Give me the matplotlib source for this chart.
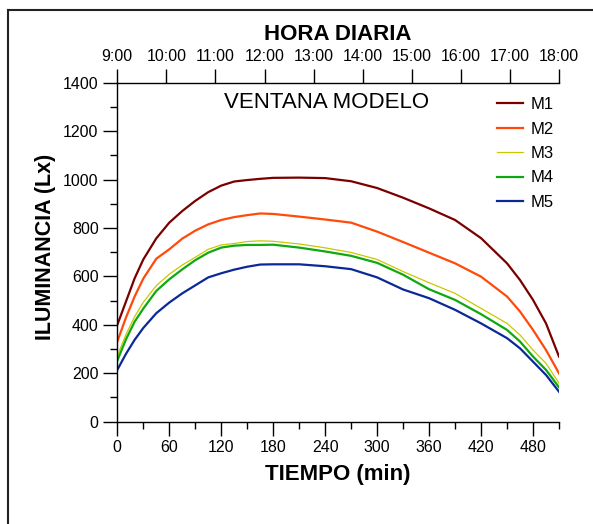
import matplotlib
matplotlib.use("Agg")
import matplotlib.pyplot as plt
from matplotlib.lines import Line2D
from matplotlib.ticker import MultipleLocator

plt.rcParams['font.family'] = ['Liberation Sans', 'DejaVu Sans']

# tiempo en minutos desde las 9:00
minutos = [0, 10, 20, 30, 45, 60, 75, 90, 105, 120, 135, 150, 165, 180,
           210, 240, 270, 300, 330, 360, 390, 420, 450, 465, 480, 495, 510]

m1 = [400, 496, 592, 670, 757, 822, 870, 912, 948, 975, 992, 998, 1003, 1007,
      1008, 1006, 993, 965, 925, 881, 833, 758, 654, 585, 503, 406, 269]
m2 = [331, 430, 517, 591, 673, 712, 756, 789, 815, 833, 845, 853, 860, 858,
      847, 835, 822, 785, 742, 698, 654, 599, 517, 455, 379, 296, 200]
m3 = [272, 360, 434, 493, 562, 609, 647, 679, 712, 730, 736, 744, 747, 745,
      734, 718, 699, 670, 620, 574, 530, 468, 406, 358, 296, 241, 159]
m4 = [252, 340, 413, 467, 540, 588, 629, 667, 698, 719, 727, 730, 730, 731,
      719, 703, 685, 656, 607, 547, 503, 444, 379, 331, 269, 214, 142]
m5 = [214, 280, 338, 387, 448, 492, 530, 563, 596, 613, 628, 640, 649, 650,
      650, 642, 630, 596, 546, 510, 462, 406, 345, 303, 248, 193, 124]

horas = [9, 10, 11, 12, 13, 14, 15, 16, 17, 18]
etiquetas_horas = ['%d:00' % h for h in horas]

series = [m1, m2, m3, m4, m5]
nombres = ['M1', 'M2', 'M3', 'M4', 'M5']
colores = ['#7a0000', '#ff4a0a', '#c8c800', '#10a810', '#0a2896']
anchos = [1.6, 1.6, 0.9, 1.6, 1.6]

fig = plt.figure(figsize=(5.93, 5.24), dpi=100)
ax = fig.add_axes([117.3 / 593, 1 - 421.7 / 524, 441.7 / 593, 339.0 / 524])

for s, n, c, w in zip(series, nombres, colores, anchos):
    ax.plot(minutos, s, color=c, lw=w, label=n)

ax.set_xlim(0, 510)
ax.set_ylim(0, 1400)
ax.xaxis.set_major_locator(MultipleLocator(60))
ax.xaxis.set_minor_locator(MultipleLocator(30))
ax.yaxis.set_major_locator(MultipleLocator(200))
ax.yaxis.set_minor_locator(MultipleLocator(100))
ax.tick_params(which='major', direction='out', length=10, width=1, labelsize=11.5, pad=3.5)
ax.tick_params(which='minor', direction='out', length=5, width=1)
ax.spines['right'].set_visible(False)
ax.spines['top'].set_visible(False)
for sp in ['left', 'bottom']:
    ax.spines[sp].set_linewidth(1)

ax.set_xlabel('TIEMPO (min)', fontsize=16, fontweight='bold', va='baseline')
ax.xaxis.set_label_coords(0.5, -0.172)
ax.set_ylabel('ILUMINANCIA (Lx)', fontsize=15.5, fontweight='bold', va='baseline')
ax.yaxis.set_label_coords(-0.15, 0.515)

ax.text(242, 1318, 'VENTANA MODELO', fontsize=16, ha='center', va='center')

leg = ax.legend(loc='upper left', bbox_to_anchor=(497 / 593, 1 - 97 / 524),
                bbox_transform=fig.transFigure, frameon=False, fontsize=12,
                handlelength=1.56, handletextpad=0.48, labelspacing=0.57,
                borderpad=0, borderaxespad=0)

# eje superior con la hora del dia
ax2 = ax.twiny()
ax2.set_xlim(9, 18)
ax2.set_xticks(horas)
ax2.set_xticklabels(etiquetas_horas)
ax2.tick_params(axis='x', direction='out', length=10, width=1, labelsize=11.5, pad=3.5)
for sp in ['left', 'right', 'bottom']:
    ax2.spines[sp].set_visible(False)
ax2.spines['top'].set_linewidth(1)
ax2.set_xlabel('HORA DIARIA', fontsize=16, fontweight='bold', va='baseline')
ax2.xaxis.set_label_coords(0.5, 1.126)

# marco
fig.add_artist(Line2D([8 / 593, 1.0], [1 - 10 / 524, 1 - 10 / 524], color='#222222', lw=1.5))
fig.add_artist(Line2D([8 / 593, 8 / 593], [0.0, 1 - 10 / 524], color='#222222', lw=1.5))

fig.savefig('out.png', dpi=100)
